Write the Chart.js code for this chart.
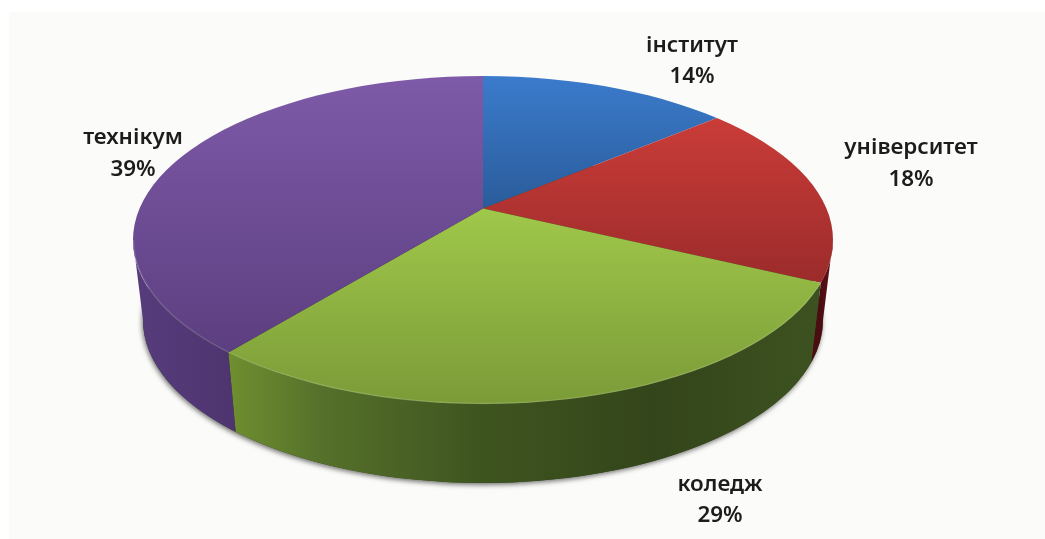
<!DOCTYPE html>
<html lang="uk">
<head>
    <meta charset="UTF-8">
    <title>Pie 3D</title>
    <script src="https://cdn.jsdelivr.net/npm/chart.js"></script>
    <style>
        html, body { margin: 0; padding: 0; background: #fff; }
        #wrap { position: absolute; left: 0; top: 0; width: 1045px; height: 539px; overflow: hidden; }
        #pie { display: block; filter: blur(0.7px); }
    </style>
</head>
<body>
<div id="wrap"><canvas id="pie" width="1045" height="539"></canvas></div>
<script>
    // values
    const categories = ['інститут', 'університет', 'коледж', 'технікум'];
    const shares = [14, 18, 29, 39];

    // top face gradient, wall gradient
    const topColors = [
        ['#3b7bcc', '#2a5c9a'],
        ['#c93c38', '#9b2b2b'],
        ['#a0c84a', '#7b9b38'],
        ['#7e5aa8', '#5c3f80']
    ];
    const wallColors = [
        [[0, '#2a5c9a'], [1, '#2a5c9a']],
        [[0, '#4a0d12'], [1, '#6a1418']],
        [[0, '#6f8f30'], [0.16, '#55702a'], [0.42, '#3f5520'], [0.72, '#33451a'], [1, '#3d5220']],
        [[0, '#573c7c'], [1, '#4e3570']]
    ];

    // projection of the disc on the page
    const vertex = { x: 483, y: 208.5 };
    const face = { x: 483, y: 240, rx: 350, ry: 164 };
    const base = { x: 483, y: 320, rx: 340, ry: 163 };
    const reach = { rx: 560, ry: 262 };

    function geom(chart) {
        const a = chart.chartArea;
        const r = Math.min(a.right - a.left, a.bottom - a.top) / 2;
        return { cx: (a.left + a.right) / 2, cy: (a.top + a.bottom) / 2, sx: reach.rx / r, sy: reach.ry / r };
    }

    function faceGradient(c) {
        const chart = c.chart;
        if (!chart.chartArea) return topColors[c.dataIndex][0];
        const g = geom(chart);
        const spans = [[76, 208], [120, 283], [208, 403], [76, 352]];
        const sp = spans[c.dataIndex];
        const toLocal = y => g.cy + (y - vertex.y) / g.sy;
        const grad = chart.ctx.createLinearGradient(0, toLocal(sp[0]), 0, toLocal(sp[1]));
        grad.addColorStop(0, topColors[c.dataIndex][0]);
        grad.addColorStop(1, topColors[c.dataIndex][1]);
        return grad;
    }

    // parameter on the face ellipse where a slice edge leaves the vertex
    function edgeParam(angle, g) {
        const dx = Math.cos(angle) * g.sx, dy = Math.sin(angle) * g.sy;
        const ox = (vertex.x - face.x) / face.rx, oy = (vertex.y - face.y) / face.ry;
        const ux = dx / face.rx, uy = dy / face.ry;
        const A = ux * ux + uy * uy, B = 2 * (ox * ux + oy * uy), C = ox * ox + oy * oy - 1;
        const s = (-B + Math.sqrt(B * B - 4 * A * C)) / (2 * A);
        return Math.atan2(oy + s * uy, ox + s * ux);
    }

    const pie3d = {
        id: 'pie3d',
        beforeDraw(chart) {
            const ctx = chart.ctx;
            ctx.save();
            ctx.fillStyle = '#fbfbf9';
            ctx.fillRect(9, 12, 1036, 527);
            ctx.restore();
        },
        beforeDatasetsDraw(chart) {
            const ctx = chart.ctx, g = geom(chart);
            const arcs = chart.getDatasetMeta(0).data;

            // shadow under the base
            ctx.save();
            ctx.shadowColor = 'rgba(0,0,0,0.55)';
            ctx.shadowBlur = 5;
            ctx.shadowOffsetY = 2;
            ctx.shadowOffsetX = -1;
            ctx.fillStyle = '#33451a';
            ctx.beginPath();
            ctx.ellipse(base.x, base.y, base.rx, base.ry, 0, 0, Math.PI * 2);
            ctx.fill();
            ctx.restore();

            // side walls
            arcs.forEach((arc, i) => {
                let t1 = edgeParam(arc.startAngle, g), t2 = edgeParam(arc.endAngle, g);
                if (t2 < t1) t2 += Math.PI * 2;
                t1 = Math.max(t1, 0);
                t2 = Math.min(t2, Math.PI);
                if (t2 <= t1) return;
                const x1 = face.x + face.rx * Math.cos(t2), x2 = face.x + face.rx * Math.cos(t1);
                const grad = ctx.createLinearGradient(x1, 0, x2, 0);
                wallColors[i].forEach(st => grad.addColorStop(st[0], st[1]));
                ctx.save();
                ctx.fillStyle = grad;
                ctx.beginPath();
                ctx.ellipse(face.x, face.y, face.rx, face.ry, 0, t1, t2);
                ctx.ellipse(base.x, base.y, base.rx, base.ry, 0, t2, t1, true);
                ctx.closePath();
                ctx.fill();
                ctx.restore();
            });

            // slices are drawn by the library, stretched from the vertex and cut by the face ellipse
            ctx.save();
            ctx.beginPath();
            ctx.ellipse(face.x, face.y, face.rx, face.ry, 0, 0, Math.PI * 2);
            ctx.clip();
            ctx.translate(vertex.x, vertex.y);
            ctx.scale(g.sx, g.sy);
            ctx.translate(-g.cx, -g.cy);
        },
        afterDatasetsDraw(chart) {
            const ctx = chart.ctx;
            ctx.restore();

            // light rim on the near edge
            ctx.save();
            ctx.strokeStyle = 'rgba(255,255,255,0.14)';
            ctx.lineWidth = 1.5;
            ctx.beginPath();
            ctx.ellipse(face.x, face.y, face.rx - 0.5, face.ry - 0.5, 0, 0.3, Math.PI);
            ctx.stroke();
            ctx.restore();

            // labels
            const spots = [[692, 46, 77], [911, 148, 180], [720, 485, 516], [133, 138, 170]];
            ctx.save();
            ctx.font = '600 22.4px "Noto Sans"';
            ctx.fillStyle = '#1c1c1c';
            ctx.textAlign = 'center';
            ctx.textBaseline = 'middle';
            chart.data.labels.forEach((name, i) => {
                ctx.fillText(name, spots[i][0], spots[i][1]);
                ctx.fillText(chart.data.datasets[0].data[i] + '%', spots[i][0], spots[i][2]);
            });
            ctx.restore();
        }
    };

    new Chart(document.getElementById('pie').getContext('2d'), {
        type: 'pie',
        data: {
            labels: categories,
            datasets: [{
                data: shares,
                backgroundColor: faceGradient,
                borderWidth: 0,
                clip: false
            }]
        },
        options: {
            responsive: false,
            animation: false,
            layout: { padding: 0 },
            plugins: {
                legend: { display: false },
                tooltip: { enabled: false }
            }
        },
        plugins: [pie3d]
    });
</script>
</body>
</html>
